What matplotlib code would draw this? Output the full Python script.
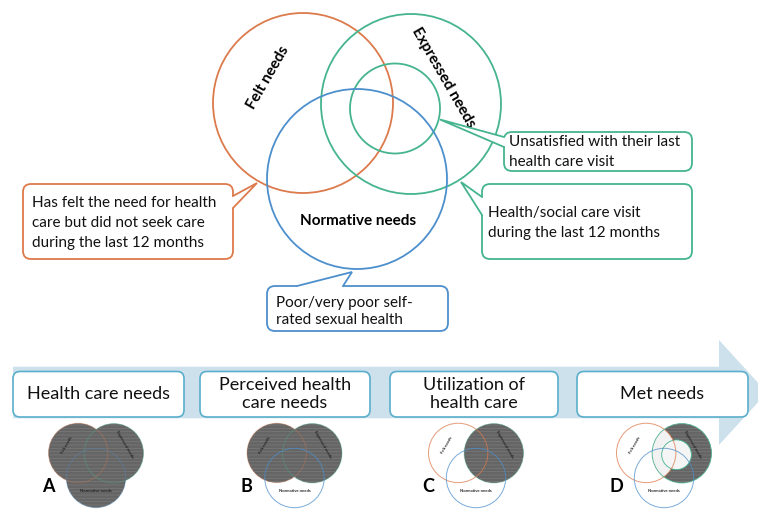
import matplotlib
matplotlib.use("Agg")
import matplotlib.pyplot as plt
from matplotlib.patches import Circle, FancyBboxPatch, Polygon

plt.rcParams["font.family"] = ["Lato", "DejaVu Sans"]
plt.rcParams["hatch.color"] = "#7b7b7b"
plt.rcParams["hatch.linewidth"] = 0.5

# ---- content ----
set_names = ["Felt needs", "Expressed needs", "Normative needs"]
stage_labels = ["Health care needs", "Perceived health\ncare needs",
                "Utilization of\nhealth care", "Met needs"]
panel_letters = ["A", "B", "C", "D"]
# which sets are shaded in each panel (felt, expressed, normative)
panel_shading = [(True, True, True), (True, True, False),
                 (False, True, False), (False, "ring", False)]
callout_texts = [
    ["Has felt the need for health", "care but did not seek care",
     "during the last 12 months"],
    ["Unsatisfied with their last", "health care visit"],
    ["Health/social care visit", "during the last 12 months"],
    ["Poor/very poor self-", "rated sexual health"],
]

ORANGE = "#dc7a4c"
GREEN = "#45b48f"
BLUE = "#4d8fcc"
BOX_EDGE = "#5aaecb"
ARROW = "#cce1ec"
GRAY = "#656565"

# big venn geometry (pixel coordinates, y down)
felt_c, exp_c, norm_c, inner_c = (303, 103), (411, 104), (357, 179), (395, 108.5)
R, R_IN = 90, 45


def callout(ax, x0, y0, x1, y1, base1, tip, base2, color, lines, tx, ty, step):
    ax.add_patch(FancyBboxPatch((x0, y0), x1 - x0, y1 - y0,
                                boxstyle="round,pad=0,rounding_size=8",
                                fc="white", ec=color, lw=1.3, zorder=5))

    def inward(b):
        if abs(b[0] - x0) < 1:
            return (b[0] + 2, b[1])
        if abs(b[0] - x1) < 1:
            return (b[0] - 2, b[1])
        if abs(b[1] - y0) < 1:
            return (b[0], b[1] + 2)
        return (b[0], b[1] - 2)

    ax.add_patch(Polygon([inward(base1), base1, tip, base2, inward(base2)],
                         closed=True, fc="white", ec="none", zorder=6))
    ax.plot([base1[0], tip[0], base2[0]], [base1[1], tip[1], base2[1]],
            color=color, lw=1.3, zorder=7, solid_joinstyle="miter")
    for i, ln in enumerate(lines):
        ax.text(tx, ty + i * step, ln, ha="left", va="center",
                fontsize=11, color="#111111", zorder=8)


def small_venn(ax, cx, cy, shading, letter):
    s = 0.33
    r = R * s
    fc = (cx + (felt_c[0] - norm_c[0]) * s, cy + (felt_c[1] - norm_c[1]) * s)
    ec = (cx + (exp_c[0] - norm_c[0]) * s, cy + (exp_c[1] - norm_c[1]) * s)
    ic = (cx + (inner_c[0] - norm_c[0]) * s, cy + (inner_c[1] - norm_c[1]) * s)
    nc = (cx, cy)
    centers = [fc, ec, nc]
    colors = [ORANGE, GREEN, BLUE]
    for c, sh in zip(centers, shading):
        if sh:
            ax.add_patch(Circle(c, r, fc=GRAY, ec="#7b7b7b", lw=0,
                                hatch="-----", zorder=2))
    if shading[1] == "ring":
        exp_clip = Circle(ec, r, transform=ax.transData)
        p = Circle(fc, r, fc="#f2f2f2", ec="none", zorder=3)
        ax.add_patch(p)
        p.set_clip_path(exp_clip)
        ax.add_patch(Circle(ic, R_IN * s, fc="#f5f5f5", ec=GREEN,
                            lw=0.6, zorder=3))
    for c, col, sh in zip(centers, colors, shading):
        ax.add_patch(Circle(c, r, fc="none", ec=col, lw=0.7,
                            alpha=0.35 if sh is True else 0.75, zorder=4))
    ax.text(fc[0] - 11.5, fc[1] - 8, set_names[0], rotation=60, fontsize=3,
            fontweight="bold", ha="center", va="center", color="#222222", zorder=5)
    ax.text(ec[0] + 10.5, ec[1] - 8.6, set_names[1], rotation=-60, fontsize=3,
            fontweight="bold", ha="center", va="center", color="#222222", zorder=5)
    ax.text(nc[0], nc[1] + 13.5, set_names[2], fontsize=3, fontweight="bold",
            ha="center", va="center", color="#222222", zorder=5)
    ax.text(fc[0] - 30, cy + 8, letter, fontsize=13, fontweight="bold",
            ha="center", va="center", color="black", zorder=5)


fig = plt.figure(figsize=(7.58, 5.09), dpi=100)
ax = fig.add_axes([0, 0, 1, 1])
ax.set_xlim(0, 758)
ax.set_ylim(509, 0)
ax.axis("off")

# ---- big venn ----
ax.add_patch(Circle(felt_c, R, fc="none", ec=ORANGE, lw=1.3, zorder=3))
ax.add_patch(Circle(exp_c, R, fc="none", ec=GREEN, lw=1.3, zorder=3))
ax.add_patch(Circle(inner_c, R_IN, fc="none", ec=GREEN, lw=1.3, zorder=3))
ax.add_patch(Circle(norm_c, R, fc="none", ec=BLUE, lw=1.3, zorder=3))
ax.text(268, 78, set_names[0], rotation=60, fontsize=11, fontweight="bold",
        ha="center", va="center")
ax.text(443, 78, set_names[1], rotation=-60, fontsize=11, fontweight="bold",
        ha="center", va="center")
ax.text(358, 221, set_names[2], fontsize=11, fontweight="bold",
        ha="center", va="center")

# ---- callouts ----
callout(ax, 23, 184, 233, 259, (233, 196), (257, 183), (233, 208), ORANGE,
        callout_texts[0], 32, 203, 20)
callout(ax, 504, 132, 692, 171, (504, 137), (440, 119.5), (504, 147), GREEN,
        callout_texts[1], 509, 142.5, 19.5)
callout(ax, 482, 184, 692, 259, (482, 197), (461, 182), (482, 215), GREEN,
        callout_texts[2], 488, 212.5, 20)
callout(ax, 267, 286, 448, 331, (297, 286), (352, 272), (343, 286), BLUE,
        callout_texts[3], 276, 302.5, 18)

# ---- process arrow ----
ax.add_patch(Polygon([(13, 366.7), (719, 366.7), (719, 340), (767, 392.5),
                      (719, 445), (719, 418.3), (13, 418.3)],
                     closed=True, fc=ARROW, ec="none", zorder=1))
box_x = [(13, 184), (200, 370), (390, 558), (577, 748)]
for (x0, x1), lab in zip(box_x, stage_labels):
    ax.add_patch(FancyBboxPatch((x0, 371.5), x1 - x0, 45.5,
                                boxstyle="round,pad=0,rounding_size=7",
                                fc="white", ec=BOX_EDGE, lw=1.2, zorder=2))
    ax.text((x0 + x1) / 2, 394, lab, ha="center", va="center", fontsize=13,
            linespacing=1.2, color="#111111", zorder=3)

# ---- small venns ----
small_x = [96, 294.5, 476, 664]
for cx, sh, let in zip(small_x, panel_shading, panel_letters):
    small_venn(ax, cx, 478, sh, let)

fig.savefig("out.png", dpi=100, facecolor="white")
